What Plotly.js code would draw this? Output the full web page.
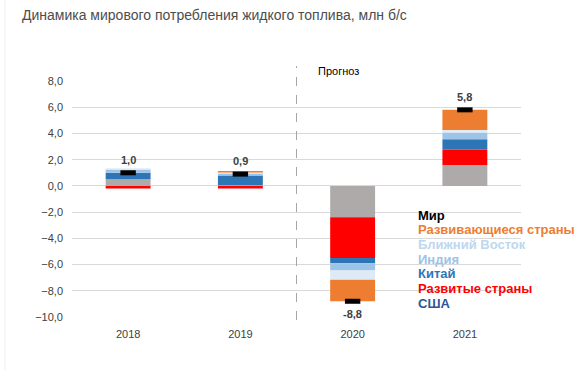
<!DOCTYPE html>
<html>
<head>
<meta charset="utf-8">
<script src="https://cdn.plot.ly/plotly-3.0.1.min.js"></script>
<style>html,body{margin:0;padding:0;background:#fff;}#chart{width:577px;height:370px;}</style>
</head>
<body>
<div id="chart"></div>
<script>
// ---- data ----
const years = ['2018', '2019', '2020', '2021'];
const usa        = [0.5, 0.05, -2.4, 1.6];
const developed  = [-0.2, -0.2, -3.1, 1.15];
const china      = [0.5, 0.75, -0.4, 0.8];
const india      = [0.25, 0.15, -0.55, 0.53];
const middleEast = [0.1, 0.08, -0.7, 0.18];
const developing = [0.0, 0.1, -1.65, 1.54];
const world      = [1.0, 0.9, -8.8, 5.8];
const seriesNames = ['США', 'Развитые страны', 'Китай', 'Индия', 'Ближний Восток', 'Развивающиеся страны'];
const legendNames = ['Мир', 'Развивающиеся страны', 'Ближний Восток', 'Индия', 'Китай', 'Развитые страны', 'США'];
const yTicks = [-10, -8, -6, -4, -2, 0, 2, 4, 6, 8];

// ---- styles ----
const barColors = ['#AEAAAA', '#FF0000', '#2E75B6', '#9DC3E6', '#DEEBF7', '#ED7D31'];
const legendColors = ['#000000', '#ED7D31', '#BDD7EE', '#9DC3E6', '#2E75B6', '#FF0000', '#2F5597'];
const FONT = 'Liberation Sans, Arial, sans-serif';
const W = 577, H = 370, ML = 72, MR = 56, MT = 81, MB = 53;
const PW = W - ML - MR, PH = H - MT - MB;
const px = x => (x - ML) / PW;
const py = y => (H - MB - y) / PH;

const seriesVals = [usa, developed, china, india, middleEast, developing];
const traces = seriesVals.map((vals, i) => ({
  type: 'bar', x: years, y: vals, name: seriesNames[i],
  marker: {color: barColors[i], line: {width: 0}},
  width: 0.4, showlegend: false, hoverinfo: 'name+y'
}));
traces.push({
  type: 'scatter', mode: 'markers', x: years, y: world, name: 'Мир',
  marker: {symbol: 'line-ew', size: 11, color: '#000', line: {color: '#000', width: 5}},
  showlegend: false, cliponaxis: false
});

const annotations = world.map((v, i) => ({
  x: i, y: v, xref: 'x', yref: 'y',
  text: '<b>' + v.toFixed(1).replace('.', ',') + '</b>',
  showarrow: false, yshift: v >= 0 ? 13 : -13,
  font: {family: FONT, size: 11, color: '#404040'}
}));
legendNames.forEach((n, i) => {
  annotations.push({
    xref: 'paper', yref: 'paper', x: px(416), y: py(215 + i * 14.7),
    xanchor: 'left', yanchor: 'middle', showarrow: false,
    text: '<b>' + n + '</b>',
    font: {family: FONT, size: 13, color: legendColors[i]}
  });
});
annotations.push({
  xref: 'paper', yref: 'paper', x: px(338), y: py(71),
  xanchor: 'center', yanchor: 'middle', showarrow: false,
  text: 'Прогноз', font: {family: FONT, size: 11, color: '#000'}
});

const layout = {
  width: W, height: H,
  margin: {l: ML, r: MR, t: MT, b: MB, pad: 0},
  paper_bgcolor: '#fff', plot_bgcolor: '#fff',
  separators: ', ',
  font: {family: FONT, size: 11, color: '#404040'},
  title: {
    text: 'Динамика мирового потребления жидкого топлива, млн б/с',
    xref: 'container', yref: 'container', x: 22 / W, y: 1 - 15 / H,
    xanchor: 'left', yanchor: 'middle',
    font: {family: FONT, size: 14, color: '#4D4D4D'}
  },
  barmode: 'relative', bargap: 0.6,
  xaxis: {
    type: 'category', range: [-0.5, 3.5], autorange: false,
    showgrid: false, zeroline: false, showline: false,
    ticks: '', ticklabelstandoff: 9,
    tickfont: {family: FONT, size: 11, color: '#404040'}
  },
  yaxis: {
    range: [-10, 8], autorange: false, tickvals: yTicks, tickformat: '.1f',
    showgrid: true, gridcolor: '#D9D9D9', gridwidth: 1,
    zeroline: true, zerolinecolor: '#D9D9D9', zerolinewidth: 1,
    showline: false, ticks: '', ticklen: 0, ticklabelstandoff: 8,
    tickfont: {family: FONT, size: 11, color: '#404040'}
  },
  shapes: [
    {type: 'line', xref: 'paper', yref: 'paper', x0: 0.5, x1: 0.5, y0: py(320), y1: py(66),
     line: {color: '#A6A6A6', width: 1, dash: 'dash'}},
    {type: 'line', xref: 'paper', yref: 'paper', x0: px(5), x1: px(5), y0: py(370), y1: py(0),
     line: {color: '#EEEEEE', width: 1}}
  ],
  annotations: annotations
};

Plotly.newPlot('chart', traces, layout, {displayModeBar: false, staticPlot: true});
</script>
</body>
</html>
